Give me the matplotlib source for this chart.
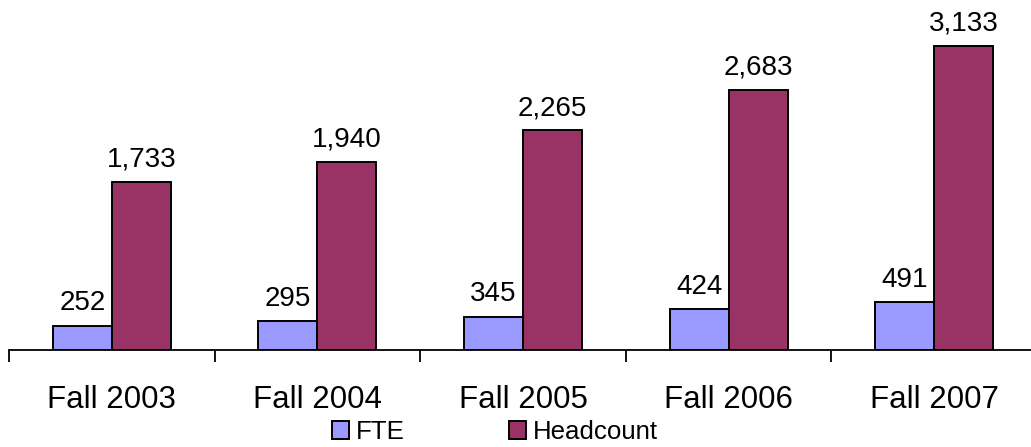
import matplotlib.pyplot as plt
import numpy as np

plt.rcParams['font.family'] = ['Liberation Sans', 'DejaVu Sans']

# data
terms = ["Fall 2003", "Fall 2004", "Fall 2005", "Fall 2006", "Fall 2007"]
fte = [252, 295, 345, 424, 491]
headcount = [1733, 1940, 2265, 2683, 3133]

x = np.arange(len(terms))
w = 0.287

fig = plt.figure(figsize=(10.31, 4.47), dpi=100)
ax = fig.add_axes([9/1031, 97/447, 1028/1031, 340/447])

b1 = ax.bar(x - w/2, fte, w, color='#9999FF', edgecolor='black', linewidth=1.4, label='FTE')
b2 = ax.bar(x + w/2, headcount, w, color='#993366', edgecolor='black', linewidth=1.4, label='Headcount')

for bars, vals in [(b1, fte), (b2, headcount)]:
    for r, v in zip(bars, vals):
        ax.annotate(f"{v:,}", (r.get_x() + r.get_width()/2, r.get_height()),
                    xytext=(0, 11), textcoords='offset points',
                    ha='center', va='baseline', fontsize=20)

ax.set_xlim(-0.5, len(terms) - 0.5)
ax.set_ylim(0, 340/0.097)

for s in ['top', 'right', 'left']:
    ax.spines[s].set_visible(False)
ax.spines['bottom'].set_linewidth(1.3)
ax.set_yticks([])

ax.set_xticks(x)
ax.set_xticklabels(terms, fontsize=22.5)
ax.tick_params(axis='x', which='major', length=0, pad=25)
ax.set_xticks(np.arange(len(terms) + 1) - 0.5, minor=True)
ax.tick_params(axis='x', which='minor', length=8.6, width=1.3, direction='out')

fig.legend(loc='center', bbox_to_anchor=(495/1031, 1 - 432/447), ncol=2,
           frameon=False, fontsize=18.6, handlelength=0.66, handleheight=0.66,
           handletextpad=0.27, columnspacing=4.0, borderpad=0)

fig.savefig('out.png', dpi=100)
